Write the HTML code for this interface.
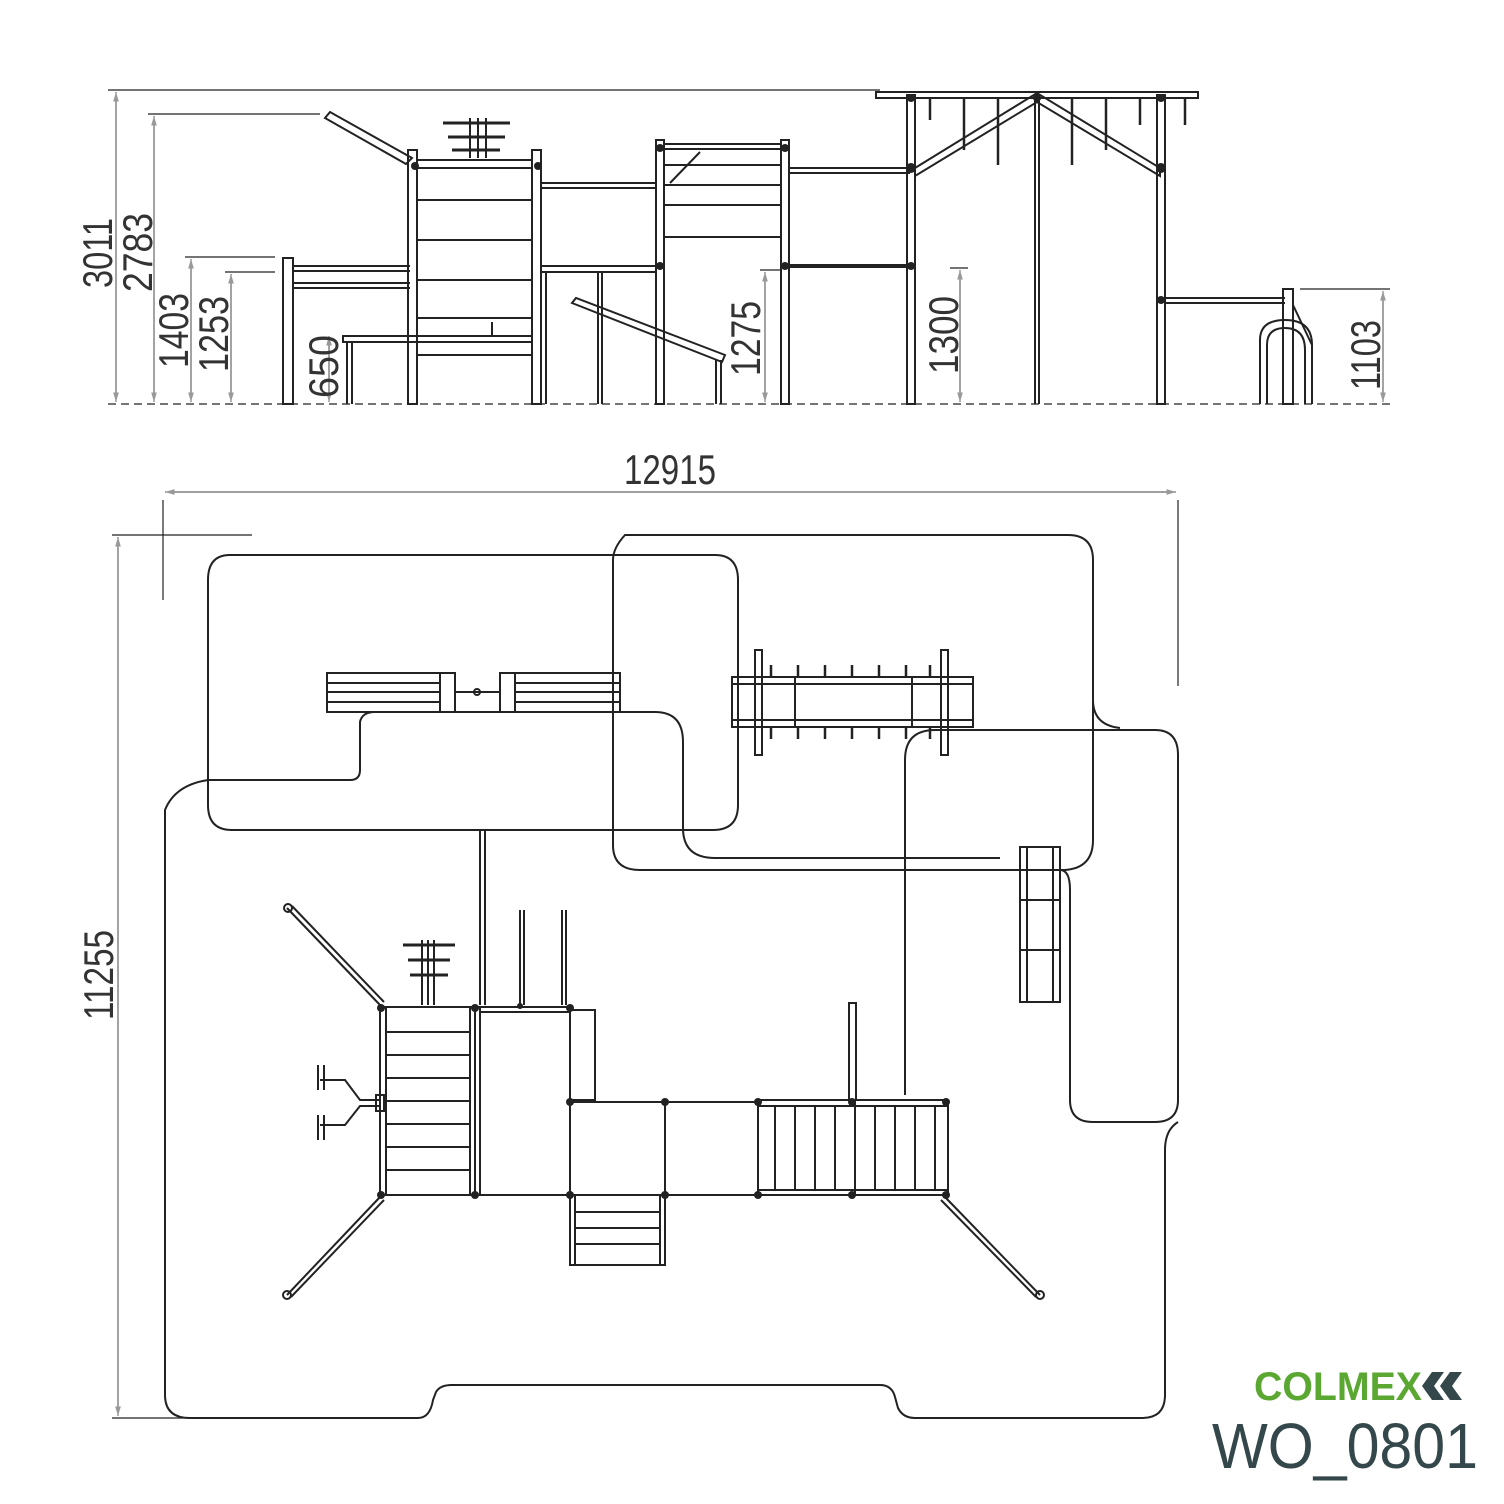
<!DOCTYPE html>
<html><head><meta charset="utf-8"><style>
html,body{margin:0;padding:0;background:#fff}
svg{display:block}
text{font-family:"Liberation Sans",sans-serif;fill:#333}
</style></head><body>
<svg width="1504" height="1504" viewBox="0 0 1504 1504" xmlns="http://www.w3.org/2000/svg">
<defs>
<marker id="ar" viewBox="0 0 10 10" refX="10" refY="5" markerWidth="8" markerHeight="10" orient="auto-start-reverse"><path d="M0,2 L10,5 L0,8 z" fill="#999"/></marker>
</defs>
<g stroke="#222" fill="none" stroke-width="2">
<line x1="108" y1="90" x2="880" y2="90" stroke-width="1.2"/>
<line x1="108" y1="404" x2="1390" y2="404" stroke-dasharray="8,5" stroke-width="1.2"/>
<line x1="148" y1="114" x2="320" y2="114" stroke-width="1.2"/>
<line x1="185" y1="257" x2="275" y2="257" stroke-width="1.2"/>
<line x1="225" y1="272" x2="275" y2="272" stroke-width="1.2"/>
<line x1="760" y1="270" x2="780" y2="270" stroke-width="1.2"/>
<line x1="950" y1="268" x2="968" y2="268" stroke-width="1.2"/>
<line x1="1300" y1="289" x2="1390" y2="289" stroke-width="1.2"/>
<g stroke="#666" stroke-width="1.2">
<line x1="116" y1="92" x2="116" y2="402" marker-start="url(#ar)" marker-end="url(#ar)"/>
<line x1="154" y1="116" x2="154" y2="402" marker-start="url(#ar)" marker-end="url(#ar)"/>
<line x1="191" y1="259" x2="191" y2="402" marker-start="url(#ar)" marker-end="url(#ar)"/>
<line x1="231" y1="274" x2="231" y2="402" marker-start="url(#ar)" marker-end="url(#ar)"/>
<line x1="329" y1="336" x2="329" y2="402" marker-start="url(#ar)" marker-end="url(#ar)"/>
<line x1="765" y1="272" x2="765" y2="402" marker-start="url(#ar)" marker-end="url(#ar)"/>
<line x1="960" y1="270" x2="960" y2="402" marker-start="url(#ar)" marker-end="url(#ar)"/>
<line x1="1383" y1="291" x2="1383" y2="402" marker-start="url(#ar)" marker-end="url(#ar)"/>
</g>
<rect x="283" y="258" width="10" height="146"/>
<line x1="293" y1="266" x2="410" y2="266"/><line x1="293" y1="271" x2="410" y2="271"/>
<line x1="293" y1="283" x2="410" y2="283"/><line x1="293" y1="288" x2="410" y2="288"/>
<rect x="408" y="150" width="9" height="254"/>
<rect x="532" y="150" width="9" height="254"/>
<rect x="417" y="160" width="115" height="8"/>
<line x1="417" y1="200" x2="532" y2="200"/><line x1="417" y1="240" x2="532" y2="240"/>
<line x1="417" y1="280" x2="532" y2="280"/><line x1="417" y1="318" x2="532" y2="318"/><line x1="417" y1="355" x2="532" y2="355"/>
<polygon points="325,118 330,112 412,158 406,164"/>
<line x1="470" y1="118" x2="470" y2="158"/><line x1="478" y1="118" x2="478" y2="158"/><line x1="486" y1="118" x2="486" y2="158"/>
<line x1="443" y1="123" x2="510" y2="123" stroke-width="3"/><line x1="448" y1="137" x2="505" y2="137" stroke-width="3"/><line x1="452" y1="150" x2="500" y2="150" stroke-width="3"/>
<rect x="343" y="336" width="189" height="6"/><line x1="347" y1="342" x2="347" y2="404"/><line x1="352" y1="342" x2="352" y2="404"/>
<line x1="492" y1="322" x2="492" y2="336"/>
<line x1="541" y1="183" x2="656" y2="183"/><line x1="541" y1="188" x2="656" y2="188"/>
<rect x="541" y="266" width="115" height="6"/>
<line x1="546" y1="272" x2="546" y2="404"/><line x1="598" y1="272" x2="598" y2="404"/><line x1="602" y1="272" x2="602" y2="404"/>
<polygon points="572,303 576,298 725,355 722,362"/>
<line x1="716" y1="360" x2="716" y2="404"/><line x1="721" y1="360" x2="721" y2="404"/>
<rect x="656" y="140" width="8" height="264"/>
<rect x="781" y="140" width="8" height="264"/>
<rect x="664" y="144" width="117" height="5"/>
<line x1="664" y1="165" x2="781" y2="165"/><line x1="664" y1="185" x2="781" y2="185"/><line x1="664" y1="205" x2="781" y2="205"/><line x1="664" y1="237" x2="781" y2="237"/>
<line x1="670" y1="183" x2="700" y2="152"/>
<line x1="789" y1="168" x2="910" y2="168"/><line x1="789" y1="173" x2="910" y2="173"/>
<line x1="789" y1="266" x2="910" y2="266" stroke-width="4"/>
<rect x="907" y="95" width="8" height="309"/>
<rect x="1157" y="95" width="8" height="309"/>
<rect x="876" y="92" width="322" height="6"/>
<line x1="1035" y1="98" x2="1035" y2="404"/><line x1="1039" y1="98" x2="1039" y2="404"/>
<polygon points="915,168 1037,93 1160,168 1160,176 1037,102 915,176"/>
<g stroke-width="2.5">
<line x1="930" y1="98" x2="930" y2="120"/><line x1="964" y1="98" x2="964" y2="150"/><line x1="998" y1="98" x2="998" y2="165"/><line x1="1072" y1="98" x2="1072" y2="165"/><line x1="1106" y1="98" x2="1106" y2="150"/><line x1="1140" y1="98" x2="1140" y2="125"/><line x1="1185" y1="98" x2="1185" y2="125"/>
</g>
<line x1="1165" y1="298" x2="1285" y2="298"/><line x1="1165" y1="303" x2="1285" y2="303"/>
<rect x="1283" y="289" width="10" height="115"/>
<path d="M1260,404 V340 Q1260,320 1285,320 Q1312,320 1312,345 V404"/>
<path d="M1267,404 V345 Q1267,328 1285,328 Q1305,328 1305,350 V404"/>
<line x1="1293" y1="305" x2="1312" y2="345"/>

<g stroke="#666" stroke-width="1.2">
<line x1="165" y1="492" x2="1176" y2="492" marker-start="url(#ar)" marker-end="url(#ar)"/>
<line x1="118" y1="537" x2="118" y2="1416" marker-start="url(#ar)" marker-end="url(#ar)"/>
</g>
<line x1="163" y1="500" x2="163" y2="600" stroke-width="1.2"/>
<line x1="1178" y1="500" x2="1178" y2="686" stroke-width="1.2"/>
<line x1="112" y1="535" x2="252" y2="535" stroke-width="1.2"/>
<line x1="112" y1="1418" x2="190" y2="1418" stroke-width="1.2"/>

<path d="M230,555 H715 Q738,555 738,580 V805 Q738,830 713,830 H232 Q208,830 208,805 V580 Q208,555 230,555 Z"/>
<path d="M625,535 H1068 Q1093,535 1093,560 V840 Q1093,868 1065,870 H640 Q613,870 613,845 V560 Q613,548 625,535 Z"/>
<path d="M208,780 H350 Q360,780 360,770 V722 Q362,712 375,712 H655 Q683,712 683,742 V828 Q683,858 715,858 H1000"/>
<path d="M935,730 H1155 Q1178,730 1178,755 V1100 Q1178,1122 1155,1122 H1093 Q1070,1122 1070,1100 V890 Q1070,870 1060,870"/>
<path d="M935,730 Q905,730 905,760 V1095"/>
<path d="M1093,700 Q1093,725 1120,728"/>
<path d="M208,780 Q175,785 165,810 V1395 Q165,1418 190,1418 H418 Q430,1418 433,1400 L436,1392 Q440,1385 452,1385 H880 Q892,1385 895,1397 L898,1408 Q903,1418 915,1418 H1142 Q1165,1418 1165,1395 V1150 Q1165,1130 1178,1122"/>

<rect x="327" y="673" width="128" height="39"/><line x1="327" y1="683" x2="440" y2="683"/><line x1="327" y1="692" x2="440" y2="692"/><line x1="327" y1="702" x2="440" y2="702"/><line x1="440" y1="673" x2="440" y2="712"/>
<rect x="500" y="673" width="120" height="39"/><line x1="515" y1="683" x2="620" y2="683"/><line x1="515" y1="692" x2="620" y2="692"/><line x1="515" y1="702" x2="620" y2="702"/><line x1="515" y1="673" x2="515" y2="712"/>
<line x1="455" y1="692" x2="500" y2="692"/><circle cx="477" cy="692" r="3"/>
<rect x="732" y="677" width="241" height="50"/><line x1="732" y1="684" x2="973" y2="684"/><line x1="732" y1="720" x2="973" y2="720"/>
<line x1="795" y1="677" x2="795" y2="727"/><line x1="912" y1="677" x2="912" y2="727"/>
<rect x="755" y="650" width="7" height="105"/><rect x="941" y="650" width="7" height="105"/>
<g stroke-width="2.5">
<line x1="771" y1="665" x2="771" y2="677"/><line x1="798" y1="665" x2="798" y2="677"/><line x1="825" y1="665" x2="825" y2="677"/><line x1="852" y1="665" x2="852" y2="677"/><line x1="879" y1="665" x2="879" y2="677"/><line x1="906" y1="665" x2="906" y2="677"/><line x1="930" y1="665" x2="930" y2="677"/>
<line x1="771" y1="727" x2="771" y2="739"/><line x1="798" y1="727" x2="798" y2="739"/><line x1="825" y1="727" x2="825" y2="739"/><line x1="852" y1="727" x2="852" y2="739"/><line x1="879" y1="727" x2="879" y2="739"/><line x1="906" y1="727" x2="906" y2="739"/><line x1="930" y1="727" x2="930" y2="739"/>
</g>
<rect x="1020" y="847" width="40" height="155"/><line x1="1020" y1="900" x2="1060" y2="900"/><line x1="1020" y1="950" x2="1060" y2="950"/>
<line x1="1027" y1="847" x2="1027" y2="1002"/><line x1="1053" y1="847" x2="1053" y2="1002"/>
<line x1="480" y1="830" x2="480" y2="1005"/><line x1="485" y1="830" x2="485" y2="1005"/>
<line x1="520" y1="910" x2="520" y2="1005"/><line x1="524" y1="910" x2="524" y2="1005"/>
<line x1="562" y1="910" x2="562" y2="1005"/><line x1="566" y1="910" x2="566" y2="1005"/>
<rect x="380" y="1007" width="95" height="188"/>
<line x1="386" y1="1007" x2="386" y2="1195"/><line x1="470" y1="1007" x2="470" y2="1195"/>
<line x1="386" y1="1032" x2="470" y2="1032"/><line x1="386" y1="1055" x2="470" y2="1055"/><line x1="386" y1="1078" x2="470" y2="1078"/><line x1="386" y1="1101" x2="470" y2="1101"/><line x1="386" y1="1124" x2="470" y2="1124"/><line x1="386" y1="1147" x2="470" y2="1147"/><line x1="386" y1="1170" x2="470" y2="1170"/>
<rect x="475" y="1007" width="95" height="188"/><line x1="480" y1="1007" x2="480" y2="1195"/><line x1="480" y1="1012" x2="570" y2="1012"/>
<rect x="570" y="1010" width="25" height="90"/>
<rect x="570" y="1102" width="95" height="93"/><rect x="665" y="1102" width="93" height="93"/>
<rect x="758" y="1100" width="190" height="95"/><line x1="758" y1="1106" x2="948" y2="1106"/><line x1="758" y1="1190" x2="948" y2="1190"/>
<line x1="775" y1="1106" x2="775" y2="1190"/><line x1="795" y1="1106" x2="795" y2="1190"/><line x1="815" y1="1106" x2="815" y2="1190"/><line x1="835" y1="1106" x2="835" y2="1190"/><line x1="855" y1="1100" x2="855" y2="1195"/><line x1="875" y1="1106" x2="875" y2="1190"/><line x1="895" y1="1106" x2="895" y2="1190"/><line x1="915" y1="1106" x2="915" y2="1190"/><line x1="935" y1="1106" x2="935" y2="1190"/>
<rect x="570" y="1195" width="95" height="70"/>
<line x1="575" y1="1195" x2="575" y2="1265"/><line x1="660" y1="1195" x2="660" y2="1265"/>
<line x1="575" y1="1212" x2="660" y2="1212"/><line x1="575" y1="1228" x2="660" y2="1228"/><line x1="575" y1="1244" x2="660" y2="1244"/>
<rect x="849" y="1003" width="7" height="97"/>
<line x1="422" y1="940" x2="422" y2="1005"/><line x1="428" y1="940" x2="428" y2="1005"/><line x1="434" y1="940" x2="434" y2="1005"/>
<line x1="403" y1="945" x2="455" y2="945" stroke-width="3"/><line x1="408" y1="960" x2="450" y2="960" stroke-width="3"/><line x1="410" y1="975" x2="448" y2="975" stroke-width="3"/>
<line x1="287" y1="908" x2="380" y2="1005"/><line x1="292" y1="906" x2="384" y2="1002"/>
<line x1="380" y1="1197" x2="287" y2="1295"/><line x1="384" y1="1200" x2="291" y2="1297"/>
<line x1="945" y1="1197" x2="1040" y2="1295"/><line x1="941" y1="1200" x2="1036" y2="1297"/>
<circle cx="288" cy="908" r="4"/><circle cx="287" cy="1295" r="4"/><circle cx="1040" cy="1295" r="4"/>
<path d="M380,1100 L360,1100 L345,1080 L320,1080 M380,1106 L360,1106 L345,1125 L320,1125"/>
<line x1="318" y1="1065" x2="318" y2="1090"/><line x1="318" y1="1115" x2="318" y2="1140"/>
<line x1="324" y1="1065" x2="324" y2="1090"/><line x1="324" y1="1115" x2="324" y2="1140"/>
<rect x="376" y="1095" width="8" height="16"/>
</g>
<g fill="#222">
<circle cx="381" cy="1008" r="4"/><circle cx="475" cy="1008" r="4"/><circle cx="570" cy="1008" r="4"/><circle cx="520" cy="1006" r="3"/>
<circle cx="381" cy="1195" r="4"/><circle cx="475" cy="1195" r="4"/><circle cx="570" cy="1195" r="4"/><circle cx="665" cy="1195" r="4"/>
<circle cx="570" cy="1102" r="4"/><circle cx="665" cy="1102" r="4"/><circle cx="758" cy="1102" r="4"/><circle cx="852" cy="1102" r="4"/><circle cx="946" cy="1102" r="4"/>
<circle cx="758" cy="1195" r="4"/><circle cx="852" cy="1195" r="4"/><circle cx="946" cy="1195" r="4"/>
<circle cx="415" cy="166" r="4"/><circle cx="538" cy="166" r="4"/><circle cx="660" cy="148" r="4"/><circle cx="785" cy="148" r="4"/>
<circle cx="911" cy="168" r="5"/><circle cx="1161" cy="168" r="5"/><circle cx="911" cy="98" r="4"/><circle cx="1161" cy="98" r="4"/><circle cx="1037" cy="98" r="4"/>
<circle cx="1161" cy="300" r="4"/><circle cx="911" cy="266" r="4"/><circle cx="785" cy="266" r="4"/><circle cx="660" cy="266" r="4"/>
</g>
<g font-size="42">
<text transform="translate(112,288) rotate(-90)" textLength="70" lengthAdjust="spacingAndGlyphs">3011</text>
<text transform="translate(152,292) rotate(-90)" textLength="79" lengthAdjust="spacingAndGlyphs">2783</text>
<text transform="translate(188,368) rotate(-90)" textLength="75" lengthAdjust="spacingAndGlyphs">1403</text>
<text transform="translate(228,372) rotate(-90)" textLength="76" lengthAdjust="spacingAndGlyphs">1253</text>
<text transform="translate(338,398) rotate(-90)" textLength="63" lengthAdjust="spacingAndGlyphs">650</text>
<text transform="translate(760,376) rotate(-90)" textLength="75" lengthAdjust="spacingAndGlyphs">1275</text>
<text transform="translate(958,374) rotate(-90)" textLength="78" lengthAdjust="spacingAndGlyphs">1300</text>
<text transform="translate(1380,390) rotate(-90)" textLength="70" lengthAdjust="spacingAndGlyphs">1103</text>
<text x="624" y="484" textLength="92" lengthAdjust="spacingAndGlyphs">12915</text>
<text transform="translate(113,1020) rotate(-90)" textLength="90" lengthAdjust="spacingAndGlyphs">11255</text>
</g>
<text x="1254" y="1400" font-size="40" font-weight="bold" style="fill:#5aa832" textLength="168" lengthAdjust="spacingAndGlyphs">COLMEX</text>
<polygon points="1432,1372 1444,1372 1434,1386 1444,1400 1432,1400 1422,1386" fill="#34474a"/>
<polygon points="1450,1372 1462,1372 1452,1386 1462,1400 1450,1400 1440,1386" fill="#34474a"/>
<text x="1212" y="1468" font-size="64" style="fill:#34474a" textLength="266" lengthAdjust="spacingAndGlyphs">WO_0801</text>
</svg>
</body></html>
